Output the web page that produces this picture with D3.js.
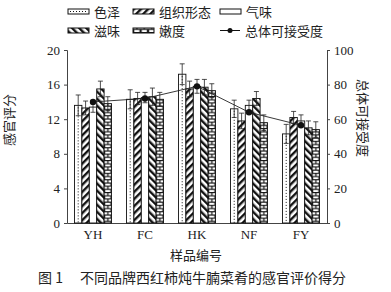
<!DOCTYPE html>
<html>
<head>
<meta charset="utf-8">
<script src="https://cdnjs.cloudflare.com/ajax/libs/d3/7.8.5/d3.min.js"></script>
<style>
  body { margin: 0; background: #fff; }
  svg text { fill: #222; }
  .num { font-family: "Liberation Serif", "DejaVu Serif", serif; font-size: 13px; }
  .cn { font-family: "Noto Sans CJK SC", sans-serif; font-size: 13px; }
</style>
</head>
<body>
<svg id="chart" width="391" height="292"></svg>
<script>
var categories = ["YH", "FC", "HK", "NF", "FY"];
var seriesNames = ["色泽", "组织形态", "气味", "滋味", "嫩度"];
var colourScore  = [13.6, 14.3, 17.2, 13.2, 10.3];
var textureScore = [13.3, 14.4, 15.5, 11.8, 12.2];
var smellScore   = [13.4, 14.5, 15.8, 13.6, 11.8];
var tasteScore   = [15.5, 14.6, 15.7, 14.4, 11.0];
var tenderScore  = [13.8, 14.3, 15.3, 11.6, 10.8];
var colourErr  = [1.2, 1.1, 1.2, 1.0, 1.1];
var textureErr = [0.8, 0.7, 0.9, 0.9, 0.7];
var smellErr   = [0.6, 0.6, 0.8, 0.6, 0.7];
var tasteErr   = [0.9, 1.0, 0.9, 0.8, 0.8];
var tenderErr  = [0.8, 0.8, 0.8, 0.9, 0.9];
var overall    = [70, 72, 79, 64, 56.5];
var leftTicks  = [0, 4, 8, 12, 16, 20];
var rightTicks = [0, 20, 40, 60, 80, 100];

var values = [colourScore, textureScore, smellScore, tasteScore, tenderScore];
var errors = [colourErr, textureErr, smellErr, tasteErr, tenderErr];
var fills = ["#fff", "url(#hatchF)", "#fff", "url(#hatchB)", "url(#brick)"];

var svg = d3.select("#chart");
var plotL = 67, plotR = 327, plotT = 50, plotB = 223;

var x = d3.scaleBand().domain(categories).range([plotL, plotR]);
var xs = d3.scaleBand().domain(d3.range(5)).range([0, 37]);
var y = d3.scaleLinear().domain([0, 20]).range([plotB, plotT]);
var y2 = d3.scaleLinear().domain([0, 100]).range([plotB, plotT]);

// patterns
var defs = svg.append("defs");
var pf = defs.append("pattern").attr("id", "hatchF").attr("patternUnits", "userSpaceOnUse")
  .attr("width", 5).attr("height", 5).attr("patternTransform", "rotate(45)");
pf.append("rect").attr("width", 5).attr("height", 5).attr("fill", "#fff");
pf.append("rect").attr("width", 2.4).attr("height", 5).attr("fill", "#111");
var pb = defs.append("pattern").attr("id", "hatchB").attr("patternUnits", "userSpaceOnUse")
  .attr("width", 5).attr("height", 5).attr("patternTransform", "rotate(-45)");
pb.append("rect").attr("width", 5).attr("height", 5).attr("fill", "#fff");
pb.append("rect").attr("width", 2.4).attr("height", 5).attr("fill", "#111");
var bw = xs.bandwidth();
var pk = defs.append("pattern").attr("id", "brick").attr("patternUnits", "userSpaceOnUse")
  .attr("width", bw).attr("height", 6.4);
pk.append("rect").attr("width", bw).attr("height", 6.4).attr("fill", "#fff");
pk.append("path").attr("d", "M0,0.5H" + bw + "M0,3.7H" + bw + "M" + (bw / 2) + ",0V3.7M0.6,3.7V6.4M" + (bw - 0.6) + ",3.7V6.4")
  .attr("stroke", "#111").attr("stroke-width", 1.1).attr("fill", "none");

// axes
var gl = svg.append("g").attr("transform", "translate(" + plotL + ",0)")
  .call(d3.axisLeft(y).tickValues(leftTicks).tickSize(3).tickPadding(4));
var gr = svg.append("g").attr("transform", "translate(" + plotR + ",0)")
  .call(d3.axisRight(y2).tickValues(rightTicks).tickSize(3).tickPadding(4));
var gb = svg.append("g").attr("transform", "translate(0," + plotB + ")")
  .call(d3.axisBottom(x).tickSize(0).tickPadding(7));
[gl, gr, gb].forEach(function (g) {
  g.selectAll("text").attr("class", "num").attr("font-family", null).attr("font-size", null).style("fill", "#222");
  g.selectAll("path,line").attr("stroke", "#444");
});

// bars
categories.forEach(function (c, ci) {
  var g = svg.append("g").attr("transform", "translate(" + (x(c) + (x.bandwidth() - 37) / 2) + ",0)");
  values.forEach(function (vals, si) {
    var bx = xs(si), v = vals[ci], e = errors[si][ci];
    g.append("rect").attr("x", bx).attr("y", y(v)).attr("width", bw).attr("height", plotB - y(v))
      .attr("fill", fills[si]).attr("stroke", "#111").attr("stroke-width", 0.9);
    if (si === 0) {
      g.append("line").attr("x1", bx + bw / 2).attr("x2", bx + bw / 2).attr("y1", y(v) + 2).attr("y2", plotB)
        .attr("stroke", "#111").attr("stroke-width", 1).attr("stroke-dasharray", "1,2");
    }
    var cx = bx + bw / 2;
    g.append("path").attr("d", "M" + cx + "," + y(v + e) + "V" + y(v - e) +
        "M" + (cx - 2.5) + "," + y(v + e) + "H" + (cx + 2.5) +
        "M" + (cx - 2.5) + "," + y(v - e) + "H" + (cx + 2.5))
      .attr("stroke", "#222").attr("stroke-width", 0.8).attr("fill", "none");
  });
});

// overall line
var line = d3.line().x(function (d, i) { return x(categories[i]) + x.bandwidth() / 2; }).y(function (d) { return y2(d); });
svg.append("path").datum(overall).attr("d", line).attr("fill", "none").attr("stroke", "#222").attr("stroke-width", 0.9);
svg.selectAll(".dot").data(overall).enter().append("circle")
  .attr("cx", function (d, i) { return x(categories[i]) + x.bandwidth() / 2; })
  .attr("cy", function (d) { return y2(d); }).attr("r", 3.2).attr("fill", "#111");

// legend
var legendPos = [[68, 12], [133, 12], [220, 12], [68, 31], [133, 31]];
seriesNames.forEach(function (n, i) {
  var lx = legendPos[i][0], ly = legendPos[i][1];
  svg.append("rect").attr("x", lx).attr("y", ly - 3).attr("width", 21).attr("height", 5)
    .attr("fill", fills[i]).attr("stroke", "#111").attr("stroke-width", 1);
  if (i === 0) {
    svg.append("line").attr("x1", lx + 2).attr("x2", lx + 19).attr("y1", ly - 0.5).attr("y2", ly - 0.5)
      .attr("stroke", "#111").attr("stroke-dasharray", "1,2");
  }
  svg.append("text").attr("class", "cn").attr("x", lx + 26).attr("y", ly + 4.5).text(n);
});
svg.append("line").attr("x1", 220).attr("x2", 240).attr("y1", 30.5).attr("y2", 30.5).attr("stroke", "#111");
svg.append("circle").attr("cx", 230).attr("cy", 30.5).attr("r", 2.5).attr("fill", "#111");
svg.append("text").attr("class", "cn").attr("x", 245).attr("y", 35.5).text("总体可接受度");

// titles
svg.append("text").attr("class", "cn").attr("transform", "translate(14,120) rotate(-90)")
  .attr("text-anchor", "middle").text("感官评分");
svg.append("text").attr("class", "cn").attr("transform", "translate(358,118) rotate(90)")
  .attr("text-anchor", "middle").text("总体可接受度");
svg.append("text").attr("class", "cn").attr("x", 196).attr("y", 260).attr("text-anchor", "middle").text("样品编号");
svg.append("text").attr("class", "cn").attr("x", 38).attr("y", 283).style("font-size", "14px").text("图 1");
svg.append("text").attr("class", "cn").attr("x", 80).attr("y", 283).style("font-size", "14px")
  .text("不同品牌西红柿炖牛腩菜肴的感官评价得分");
</script>
</body>
</html>
